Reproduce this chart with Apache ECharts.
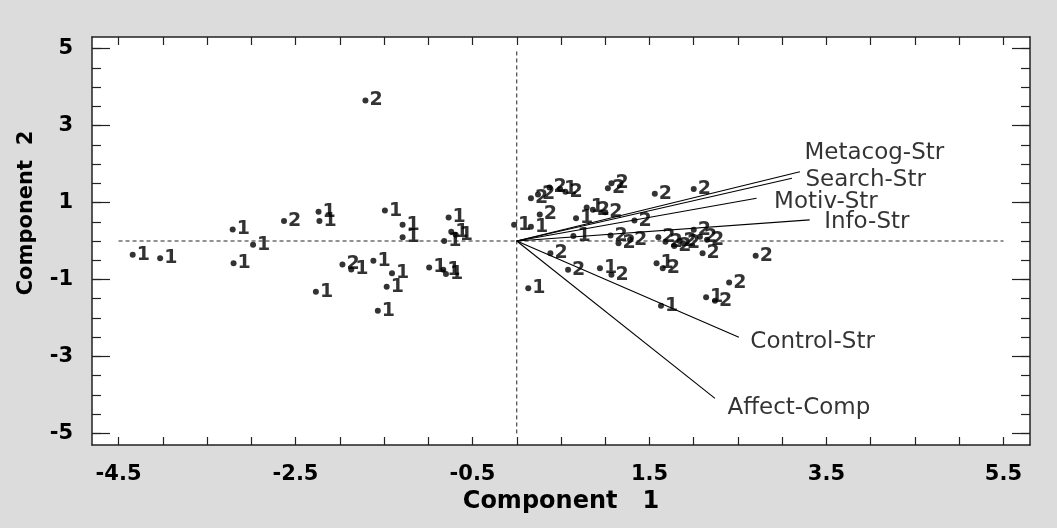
<!DOCTYPE html>
<html><head><meta charset="utf-8">
<script src="https://cdn.jsdelivr.net/npm/echarts@6/dist/echarts.min.js"></script>
<style>html,body{margin:0;padding:0;background:#dcdcdc}#c{width:1057px;height:528px}</style>
</head><body><div id="c"></div>
<script>
// Observations labelled "1"
const group1 = [
  [-4.34,-0.36],[-4.03,-0.45],[-3.21,0.30],[-2.98,-0.10],[-3.20,-0.58],
  [-2.24,0.76],[-2.23,0.52],[-2.27,-1.32],[-1.87,-0.74],[-1.62,-0.51],
  [-1.41,-0.84],[-1.47,-1.19],[-1.57,-1.81],[-1.49,0.79],[-1.29,0.42],
  [-1.29,0.10],[-0.77,0.61],[-0.74,0.24],[-0.69,0.16],[-0.82,0.00],
  [-0.99,-0.69],[-0.83,-0.75],[-0.80,-0.86],[-0.03,0.42],[0.16,0.37],
  [0.49,1.35],[0.67,0.59],[0.79,0.87],[0.64,0.13],[0.94,-0.71],
  [1.58,-0.58],[0.13,-1.23],[1.63,-1.68],[2.14,-1.46]
];
// Observations labelled "2"
const group2 = [
  [-2.63,0.52],[-1.97,-0.61],[-1.71,3.65],[0.16,1.11],[0.24,1.21],
  [0.37,1.39],[0.55,1.28],[0.26,0.69],[1.03,1.37],[1.07,1.50],
  [0.86,0.81],[1.00,0.75],[1.06,0.14],[1.15,-0.06],[1.28,0.03],
  [0.38,-0.32],[0.58,-0.75],[1.07,-0.88],[1.33,0.53],[1.56,1.23],
  [2.00,1.35],[1.60,0.10],[1.68,-0.02],[1.78,-0.13],[1.84,0.00],
  [1.88,-0.06],[2.00,0.29],[2.07,0.11],[2.15,0.03],[2.10,-0.32],
  [2.70,-0.38],[2.40,-1.08],[2.24,-1.55],[1.65,-0.71]
];
// Variable vectors (loadings)
const vectorNames = ['Metacog-Str','Search-Str','Motiv-Str','Info-Str','Control-Str','Affect-Comp'];
const vectorX = [3.20, 3.11, 2.71, 3.31, 2.51, 2.24];
const vectorY = [1.80, 1.63, 1.11, 0.55, -2.50, -4.09];
// Axis ticks / labels
const xTickLabels = [-4.5,-2.5,-0.5,1.5,3.5,5.5];
const yTickLabels = [-5,-3,-1,1,3,5];
const xMinorTicks = [-4.5,-4,-3.5,-3,-2.5,-2,-1.5,-1,-0.5,0,0.5,1,1.5,2,2.5,3,3.5,4,4.5,5,5.5];
const yMinorTicks = [-5,-4.5,-4,-3.5,-3,-2.5,-2,-1.5,-1,-0.5,0,0.5,1,1.5,2,2.5,3,3.5,4,4.5,5];
// Reference dashed lines
const zeroLineH = [[-4.5,0],[5.5,0]];
const zeroLineV = [[0,-5],[0,5]];

// label offsets for vector names (style only)
const vectorLabelOffset = [[4,-19],[13,2],[17,4],[14,2],[11,5],[12,10]];

const X_MIN = -4.8, X_MAX = 5.8, Y_MIN = -5.3, Y_MAX = 5.3;
const lineCol = '#222';
const tickFont = {fontFamily:'DejaVu Sans', fontWeight:'bold', fontSize:21, color:'#000'};

function xAx(pos, showLabel){
  return {type:'value', position:pos, min:X_MIN, max:X_MAX,
    axisLine:{show:true, onZero:false, lineStyle:{color:lineCol, width:1.5}},
    axisTick:{show:true, inside:true, length:8, customValues:xMinorTicks, lineStyle:{color:lineCol, width:1.2}},
    axisLabel:{show:showLabel, customValues:xTickLabels, margin:19, ...tickFont},
    splitLine:{show:false}};
}
function yAx(pos, major, showLabel, showLine){
  return {type:'value', position:pos, min:Y_MIN, max:Y_MAX,
    axisLine:{show:showLine, onZero:false, lineStyle:{color:lineCol, width:1.5}},
    axisTick:{show:true, inside:true, length: major?18:9, customValues: major?yTickLabels:yMinorTicks, lineStyle:{color:lineCol, width:1.2}},
    axisLabel:{show:showLabel, customValues:yTickLabels, margin:19, ...tickFont},
    splitLine:{show:false}};
}

const xAxes = [xAx('bottom', true), xAx('top', false)];
xAxes[0].name = 'Component   1';
xAxes[0].nameLocation = 'middle';
xAxes[0].nameGap = 40;
xAxes[0].nameTextStyle = {fontFamily:'DejaVu Sans', fontWeight:'bold', fontSize:24, color:'#000'};

const yAxes = [yAx('left', true, true, true), yAx('left', false, false, false), yAx('right', true, false, true), yAx('right', false, false, false)];
yAxes[0].name = 'Component  2';
yAxes[0].nameLocation = 'middle';
yAxes[0].nameGap = 55;
yAxes[0].nameTextStyle = {fontFamily:'DejaVu Sans', fontWeight:'bold', fontSize:21, color:'#000', padding:[0,0,0,56]};

const pointLabel = (t) => ({show:true, formatter:t, position:'right', distance:1,
  fontFamily:'DejaVu Sans', fontWeight:'bold', fontSize:19, color:'#000'});

const series = [
  {type:'line', data:zeroLineH, symbol:'none', silent:true, lineStyle:{color:'#222', width:1, type:[4,3]}},
  {type:'line', data:zeroLineV, symbol:'none', silent:true, lineStyle:{color:'#222', width:1, type:[4,3]}},
];
vectorNames.forEach((n,i)=>{
  series.push({type:'line', symbol:'none', silent:true, data:[[0,0],[vectorX[i],vectorY[i]]],
    lineStyle:{color:'#000', width:1.1}});
});
series.push({type:'scatter', symbolSize:1, silent:true, itemStyle:{color:'rgba(0,0,0,0)'},
  data: vectorNames.map((n,i)=>({value:[vectorX[i],vectorY[i]], name:n,
    label:{show:true, formatter:n, position:'right', distance:0, offset:vectorLabelOffset[i],
      fontFamily:'DejaVu Sans', fontSize:23, color:'#000'}}))});
series.push({type:'scatter', symbolSize:6, itemStyle:{color:'#000'}, data:group1, label:pointLabel('1')});
series.push({type:'scatter', symbolSize:6, itemStyle:{color:'#000'}, data:group2, label:pointLabel('2')});
series.forEach(s=>{s.xAxisIndex=0; s.yAxisIndex=0; s.animation=false;});

const chart = echarts.init(document.getElementById('c'), null, {renderer:'canvas'});
chart.setOption({
  backgroundColor:'#dcdcdc',
  animation:false,
  grid:{left:92, top:37, width:938, height:408, show:true, backgroundColor:'#fff', borderWidth:0},
  xAxis:xAxes, yAxis:yAxes, series:series
});
</script></body></html>
